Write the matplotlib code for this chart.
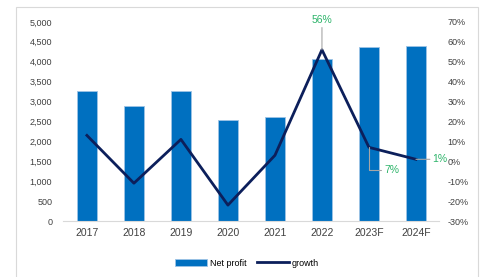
import matplotlib.pyplot as plt
from matplotlib.patches import Rectangle
from matplotlib.ticker import FuncFormatter

# 数据
years = ['2017', '2018', '2019', '2020', '2021', '2022', '2023F', '2024F']
net_profit = [3260, 2900, 3260, 2525, 2600, 4065, 4370, 4390]
growth = [13, -11, 11, -22, 3, 56, 7, 1]

plt.rcParams['font.family'] = ['Liberation Sans', 'DejaVu Sans']

fig = plt.figure(figsize=(4.84, 2.77), dpi=100)
ax = fig.add_axes([0.131, 0.202, 0.777, 0.719])
ax2 = ax.twinx()

x = range(len(years))
bars = ax.bar(x, net_profit, width=0.43, color='#0070C0', edgecolor='#9DC3E6',
              linewidth=0.6, label='Net profit', zorder=2)
line, = ax2.plot(x, growth, color='#0C1F5B', linewidth=2, label='growth', zorder=3)

ax.set_ylim(0, 5000)
ax.set_yticks(range(0, 5001, 500))
ax.yaxis.set_major_formatter(FuncFormatter(lambda v, p: f'{int(v):,}'))
ax.set_xlim(-0.5, len(years) - 0.5)
ax.set_xticks(list(x))
ax.set_xticklabels(years)

ax2.set_ylim(-30, 70)
ax2.set_yticks(range(-30, 71, 10))
ax2.yaxis.set_major_formatter(FuncFormatter(lambda v, p: f'{int(v)}%'))

for a in (ax, ax2):
    for s in a.spines.values():
        s.set_visible(False)
    a.tick_params(length=0, labelsize=6.5, colors='#404040')
ax.spines['bottom'].set_visible(True)
ax.spines['bottom'].set_color('#D9D9D9')
ax.tick_params(axis='x', labelsize=7.5, pad=5)
ax.tick_params(axis='y', pad=8)
ax2.tick_params(axis='y', pad=6)

# 数据标签
lab_color = '#2DB46A'
arrow = dict(arrowstyle='-', color='#A6A6A6', lw=0.8, shrinkA=0, shrinkB=0)
ax2.annotate(f'{growth[5]}%', xy=(5, growth[5]), xytext=(0, 18),
             textcoords='offset points', ha='center', va='bottom',
             color=lab_color, fontsize=7.5, arrowprops=arrow)
ax2.annotate(f'{growth[6]}%', xy=(6, growth[6]), xytext=(11, -16),
             textcoords='offset points', ha='left', va='center',
             color=lab_color, fontsize=7.5,
             arrowprops=dict(arrow, connectionstyle='angle,angleA=0,angleB=90'))
ax2.annotate(f'{growth[7]}%', xy=(7, growth[7]), xytext=(12, 0),
             textcoords='offset points', ha='left', va='center',
             color=lab_color, fontsize=7.5, arrowprops=arrow)

fig.legend(handles=[bars, line], labels=['Net profit', 'growth'],
           loc='center', bbox_to_anchor=(0.51, 0.05), ncol=2, frameon=False,
           fontsize=6.5, handlelength=3.5, handletextpad=0.3, columnspacing=1.2)

fig.patches.append(Rectangle((16 / 484, -0.01), 462 / 484, 1 - 7 / 277 + 0.01,
                             transform=fig.transFigure, fill=False,
                             edgecolor='#D9D9D9', linewidth=0.8))

fig.savefig('out.png', dpi=100)
